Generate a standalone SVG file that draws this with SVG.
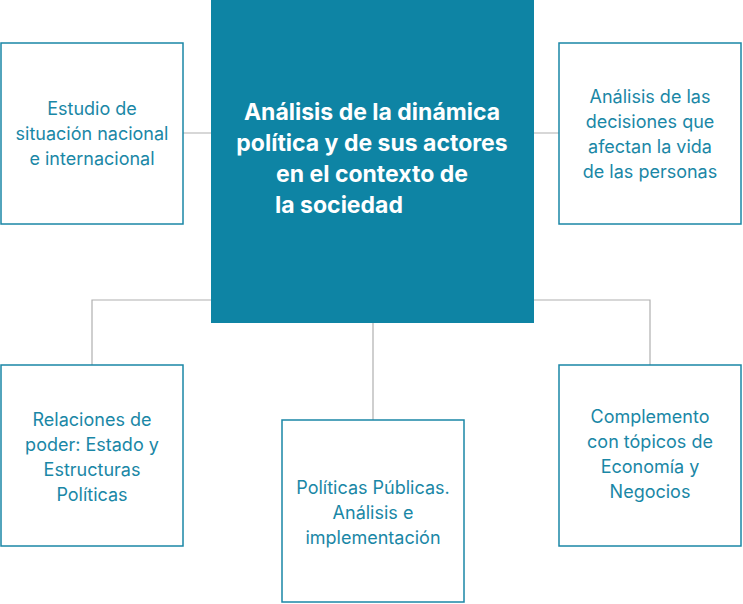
<svg xmlns="http://www.w3.org/2000/svg" width="743" height="604" viewBox="0 0 743 604">
<style>
.box{fill:#fff;stroke:#1a87a6;stroke-width:1.5}
.t{font-family:Inter,"Liberation Sans",sans-serif;font-size:18px;fill:#1a87a6;text-anchor:middle}
.c{font-family:Inter,"Liberation Sans",sans-serif;font-size:23px;font-weight:bold;fill:#fff;text-anchor:middle}
.ln{stroke:#b0b0b0;stroke-width:1.2;fill:none}
</style>
<rect width="743" height="604" fill="#fff"/>
<g id="connectors">
<path class="ln" d="M183 133H211M534 133H559M211 300H92V365M534 300H650V365M373 323V420"/>
</g>
<g id="center">
<rect x="211" y="0" width="323" height="323" fill="#0e84a4"/>
<text class="c" x="372" y="120">Análisis de la dinámica</text>
<text class="c" x="372" y="151">política y de sus actores</text>
<text class="c" x="372" y="182">en el contexto de</text>
<text class="c" x="339" y="213">la sociedad</text>
</g>
<g id="n1"><rect class="box" x="1" y="43" width="182" height="181"/>
<text class="t" x="92" y="115">Estudio de</text><text class="t" x="92" y="140">situación nacional</text><text class="t" x="92" y="165">e internacional</text></g>
<g id="n2"><rect class="box" x="559" y="43" width="182" height="181"/>
<text class="t" x="650" y="103">Análisis de las</text><text class="t" x="650" y="128">decisiones que</text><text class="t" x="650" y="153">afectan la vida</text><text class="t" x="650" y="178">de las personas</text></g>
<g id="n3"><rect class="box" x="1" y="365" width="182" height="181"/>
<text class="t" x="92" y="426">Relaciones de</text><text class="t" x="92" y="451">poder: Estado y</text><text class="t" x="92" y="476">Estructuras</text><text class="t" x="92" y="501">Políticas</text></g>
<g id="n4"><rect class="box" x="282" y="420" width="182" height="182"/>
<text class="t" x="373" y="494">Políticas Públicas.</text><text class="t" x="373" y="519">Análisis e</text><text class="t" x="373" y="544">implementación</text></g>
<g id="n5"><rect class="box" x="559" y="365" width="182" height="181"/>
<text class="t" x="650" y="423">Complemento</text><text class="t" x="650" y="448">con tópicos de</text><text class="t" x="650" y="473">Economía y</text><text class="t" x="650" y="498">Negocios</text></g>
</svg>
